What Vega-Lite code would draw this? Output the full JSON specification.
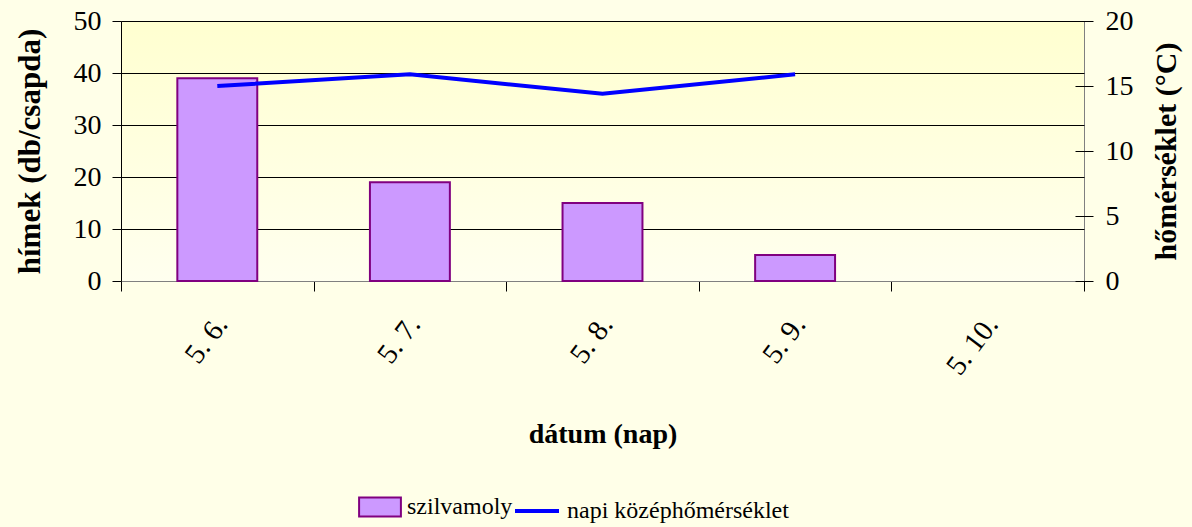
{
  "$schema": "https://vega.github.io/schema/vega-lite/v6.json",
  "width": 963,
  "height": 260,
  "autosize": {"type": "none"},
  "padding": {"left": 121, "top": 21, "right": 108, "bottom": 246},
  "background": "#FFFFE8",
  "config": {
    "font": "Liberation Serif",
    "axis": {"labelFont": "Liberation Serif", "titleFont": "Liberation Serif"},
    "legend": {"labelFont": "Liberation Serif", "titleFont": "Liberation Serif"},
    "view": {
      "stroke": "#808080",
      "fill": {"gradient": "linear", "x1": 0, "y1": 0, "x2": 0, "y2": 1,
        "stops": [{"offset": 0, "color": "#FFFFD0"}, {"offset": 1, "color": "#FFFFEF"}]}
    }
  },
  "data": {
    "values": [
      {"datum": "5. 6.", "himek": 39, "temp": 15.0},
      {"datum": "5. 7.", "himek": 19, "temp": 15.9},
      {"datum": "5. 8.", "himek": 15, "temp": 14.4},
      {"datum": "5. 9.", "himek": 5, "temp": 15.9},
      {"datum": "5. 10.", "himek": null, "temp": null}
    ]
  },
  "encoding": {
    "x": {
      "field": "datum", "type": "nominal", "sort": null,
      "scale": {"domain": ["5. 6.", "5. 7.", "5. 8.", "5. 9.", "5. 10."], "paddingInner": 0, "paddingOuter": 0},
      "axis": {
        "title": "dátum (nap)", "titleFont": "Liberation Serif", "titleFontSize": 28, "titleFontWeight": "bold", "titleColor": "#000", "titlePadding": 40,
        "labelFont": "Liberation Serif", "labelAngle": -53, "labelAlign": "right", "labelBaseline": "middle", "labelFontSize": 29, "labelColor": "#000", "labelPadding": 28, "labelOffset": 4,
        "tickBand": "extent", "tickSize": 10, "tickColor": "#000", "domainColor": "#808080", "grid": false
      }
    }
  },
  "layer": [
    {
      "mark": {"type": "bar", "width": {"band": 0.415}, "stroke": "#800080", "strokeWidth": 2},
      "encoding": {
        "y": {
          "field": "himek", "type": "quantitative", "scale": {"domain": [0, 50]},
          "axis": {
            "title": "hímek (db/csapda)", "titleFont": "Liberation Serif", "titleFontSize": 31, "titleFontWeight": "bold", "titleColor": "#000", "titlePadding": 27,
            "values": [0, 10, 20, 30, 40, 50], "grid": true,
            "gridColor": {"condition": {"test": "datum.value === 0", "value": "#808080"}, "value": "#000000"},
            "gridOpacity": 1, "domainColor": "#000", "tickColor": "#000", "tickSize": 9,
            "labelFont": "Liberation Serif", "labelFontSize": 28, "labelPadding": 11, "labelColor": "#000"
          }
        },
        "fill": {
          "datum": "szilvamoly", "type": "nominal",
          "scale": {"domain": ["szilvamoly"], "range": ["#CC99FF"]},
          "legend": {
            "orient": "none", "legendX": 239, "legendY": 466, "title": null, "padding": 0,
            "symbolType": "M-1.1,-0.5H1.1V0.5H-1.1Z", "symbolSize": 1444,
            "symbolStrokeColor": "#800080", "symbolStrokeWidth": 2,
            "labelFont": "Liberation Serif", "labelFontSize": 24, "labelColor": "#000", "labelOffset": 7, "labelLimit": 0
          }
        }
      }
    },
    {
      "mark": {"type": "line", "strokeWidth": 4},
      "encoding": {
        "y": {
          "field": "temp", "type": "quantitative", "scale": {"domain": [0, 20]},
          "axis": {
            "orient": "right", "offset": -9, "domain": false,
            "title": "hőmérséklet (°C)", "titleFont": "Liberation Serif", "titleFontSize": 30, "titleFontWeight": "bold", "titleColor": "#000",
            "titleAngle": -90, "titleBaseline": "top", "titlePadding": 18,
            "values": [0, 5, 10, 15, 20], "grid": false,
            "tickColor": "#000", "tickSize": 18,
            "labelFont": "Liberation Serif", "labelFontSize": 28, "labelPadding": 12, "labelColor": "#000"
          }
        },
        "stroke": {
          "datum": "napi középhőmérséklet", "type": "nominal",
          "scale": {"domain": ["napi középhőmérséklet"], "range": ["#0000FF"]},
          "legend": {
            "orient": "none", "legendX": 392, "legendY": 466, "title": null, "padding": 0,
            "symbolType": "stroke", "symbolSize": 1936, "symbolStrokeWidth": 4,
            "labelFont": "Liberation Serif", "labelFontSize": 24, "labelColor": "#000", "labelOffset": 6, "labelLimit": 0
          }
        }
      }
    }
  ],
  "resolve": {"scale": {"y": "independent"}}
}
